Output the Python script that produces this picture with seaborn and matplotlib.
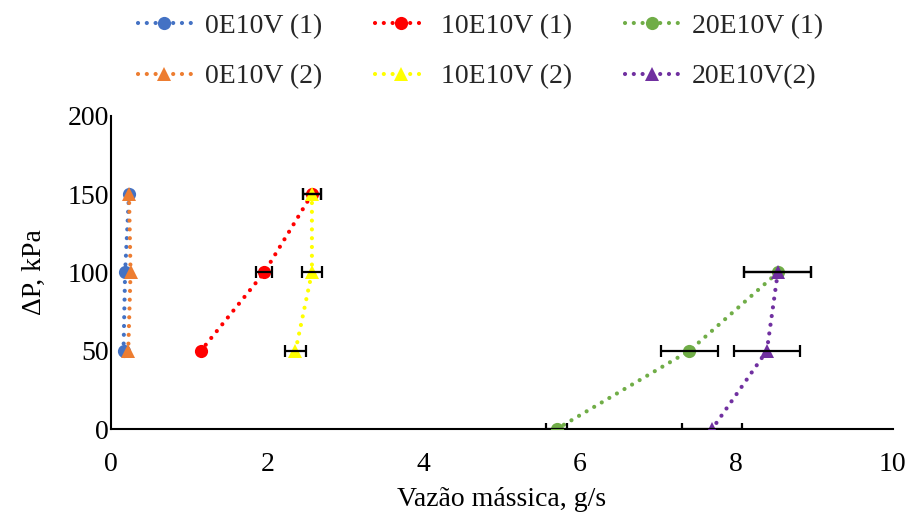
import matplotlib
matplotlib.use("Agg")
import matplotlib.pyplot as plt
import seaborn as sns
import pandas as pd
from matplotlib.lines import Line2D

sns.set_theme(style="white")
plt.rcParams['font.family'] = ['Liberation Serif', 'DejaVu Serif']

# Data
labels = ["0E10V (1)", "0E10V (2)", "10E10V (1)", "10E10V (2)", "20E10V (1)", "20E10V(2)"]
dp_a = [150, 100, 50]
dp_b = [100, 50, 0]
x_0e1 = [0.23, 0.18, 0.16]
x_0e2 = [0.23, 0.25, 0.22]
x_10e1 = [2.57, 1.96, 1.15]
err_10e1 = [0.12, 0.10, 0.0]
x_10e2 = [2.57, 2.57, 2.36]
err_10e2 = [0.12, 0.13, 0.13]
x_20e1 = [8.53, 7.40, 5.70]
err_20e1 = [0.43, 0.37, 0.13]
x_20e2 = [8.53, 8.39, 7.69]
err_20e2 = [0.43, 0.42, 0.38]

series = [
    (labels[0], x_0e1, dp_a, None, "#4472C4", "o"),
    (labels[1], x_0e2, dp_a, None, "#ED7D31", "^"),
    (labels[2], x_10e1, dp_a, err_10e1, "#FF0000", "o"),
    (labels[3], x_10e2, dp_a, err_10e2, "#FFFF00", "^"),
    (labels[4], x_20e1, dp_b, err_20e1, "#70AD47", "o"),
    (labels[5], x_20e2, dp_b, err_20e2, "#7030A0", "^"),
]

DASH = (0, (0.01, 2.1))
LW = 3.0
MS = 9.5

fig = plt.figure(figsize=(9.1, 5.13), dpi=100)
ax = fig.add_axes([0.122, 0.1637, 0.859, 0.6103])

handles = []
for name, xs, ys, errs, color, mk in series:
    df = pd.DataFrame({"x": xs, "y": ys})
    sns.lineplot(data=df, x="x", y="y", sort=False, ax=ax, color=color,
                 linestyle=DASH, linewidth=LW, dash_capstyle="round",
                 marker=mk, markersize=MS, markeredgewidth=0,
                 markerfacecolor=color, estimator=None, zorder=3)
    if errs is not None:
        ex = [x for x, e in zip(xs, errs) if e > 0]
        ey = [y for y, e in zip(ys, errs) if e > 0]
        ee = [e for e in errs if e > 0]
        ax.errorbar(ex, ey, xerr=ee, fmt="none", ecolor="black",
                    elinewidth=1.6, capsize=4, capthick=1.6, zorder=4)
    handles.append(Line2D([0], [0], color=color, linestyle=DASH,
                          linewidth=LW, dash_capstyle="round", marker=mk,
                          markersize=MS, markeredgewidth=0, label=name))

ax.set_xlim(0, 10)
ax.set_ylim(0, 200)
ax.set_xticks([0, 2, 4, 6, 8, 10])
ax.set_yticks([0, 50, 100, 150, 200])
ax.tick_params(axis="both", labelsize=20, length=0, colors="black")
ax.tick_params(axis="x", pad=16.5)
ax.tick_params(axis="y", pad=1.5)
ax.set_xlabel("Vazão mássica, g/s", fontsize=20, color="black", labelpad=7)
ax.set_ylabel("ΔP, kPa", fontsize=20, color="black", labelpad=15)
for s in ["top", "right"]:
    ax.spines[s].set_visible(False)
for s in ["left", "bottom"]:
    ax.spines[s].set_color("black")
    ax.spines[s].set_linewidth(1.5)

fig.legend(handles=handles, loc="upper center", bbox_to_anchor=(0.528, 1.022),
           ncol=3, frameon=False, fontsize=20, handlelength=1.9,
           columnspacing=1.9, labelspacing=0.9, handletextpad=0.5)

fig.savefig("out.png", dpi=100)
